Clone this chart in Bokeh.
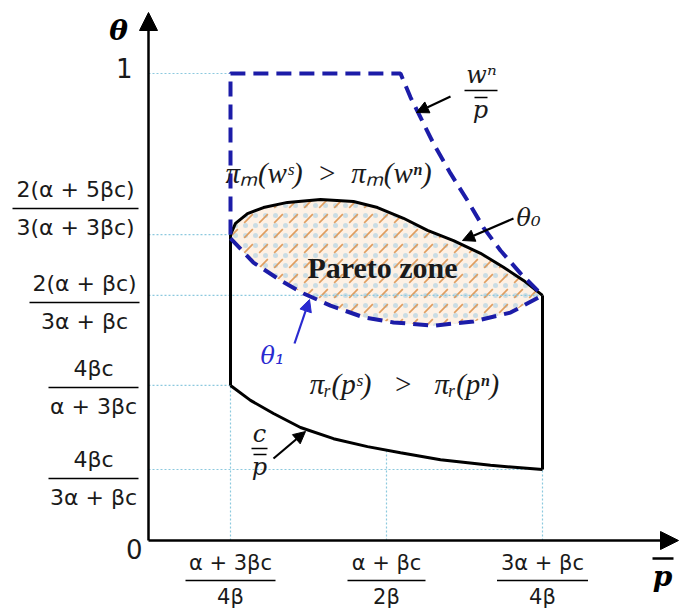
import numpy as np
from bokeh.plotting import figure
from bokeh.models import Range1d, Arrow, NormalHead
from bokeh.core.properties import value
from bokeh.embed import file_html
from bokeh.resources import INLINE

# ---------------- data (schematic units: p-bar horizontal, theta vertical) ----------------
x_ticks = [0.82, 2.38, 3.94]
x_tick_num = ["α + 3βc", "α + βc", "3α + βc"]
x_tick_den = ["4β", "2β", "4β"]

y_ticks = [1.0, 0.655, 0.525, 0.332, 0.152]
y_tick_num = ["2(α + 5βc)", "2(α + βc)", "4βc", "4βc"]
y_tick_den = ["3(α + 3βc)", "3α + βc", "α + 3βc", "3α + βc"]

# upper boundary theta_0 (solid black)
theta0_x = [0.82, 0.87, 0.99, 1.15, 1.39, 1.72, 2.05, 2.29, 2.55, 2.79, 3.05, 3.32, 3.55, 3.75, 3.94]
theta0_y = [0.655, 0.679, 0.700, 0.713, 0.724, 0.730, 0.726, 0.713, 0.690, 0.664, 0.642, 0.615, 0.585, 0.557, 0.525]

# theta_1 (blue dashed)
theta1_x = [0.82, 1.05, 1.32, 1.55, 1.82, 2.15, 2.45, 2.85, 3.25, 3.62, 3.94]
theta1_y = [0.647, 0.595, 0.557, 0.529, 0.503, 0.478, 0.467, 0.460, 0.469, 0.488, 0.525]

# c / p-bar (solid black lower boundary)
cp_x = [0.82, 1.02, 1.25, 1.52, 1.85, 2.19, 2.52, 2.92, 3.42, 3.94]
cp_y = [0.332, 0.300, 0.272, 0.242, 0.218, 0.201, 0.188, 0.173, 0.161, 0.152]

# w^n / p-bar (blue dashed upper path)
wn_x = [0.82, 0.82, 2.52, 2.62, 2.72, 2.85, 3.02, 3.19, 3.35, 3.52, 3.72, 3.94]
wn_y = [0.655, 1.0, 1.0, 0.949, 0.906, 0.850, 0.786, 0.728, 0.670, 0.621, 0.572, 0.525]

# ---------------- layout helpers (page pixel -> schematic units) ----------------
W, H = 680, 611
def X(px):
    return (px - 148) / 100.0
def Y(py):
    return (540 - py) / 467.0

p = figure(width=W, height=H, output_backend="svg", toolbar_location=None,
           x_range=Range1d(X(0), X(W)), y_range=Range1d(Y(H), Y(0)),
           min_border=0, outline_line_color=None)
p.axis.visible = False
p.grid.visible = False
p.background_fill_color = "white"

BLUE = "#1c1ca8"
GRID = "#8cc9de"

# Pareto zone fill
pz_x = theta0_x + theta1_x[::-1]
pz_y = theta0_y + theta1_y[::-1]
p.patch(pz_x, pz_y, fill_color="#fdeede", fill_alpha=0.8, line_color=None)
p.patch(pz_x, pz_y, fill_alpha=0, line_color=None, hatch_pattern=".",
        hatch_color="#a8cfe3", hatch_scale=10, hatch_weight=1.0, hatch_alpha=0.6)
p.patch(pz_x, pz_y, fill_alpha=0, line_color=None, hatch_pattern=",",
        hatch_color="#dd9450", hatch_scale=15, hatch_weight=1.7, hatch_alpha=0.9)

# dotted guide lines
gx0 = [0, 0, 0, 0, 0, x_ticks[0], x_ticks[1], x_ticks[2]]
gy0 = [y_ticks[0], y_ticks[1], y_ticks[2], y_ticks[3], y_ticks[4], 0, 0, 0]
gx1 = [x_ticks[0], x_ticks[0], x_ticks[2], x_ticks[0], x_ticks[2], x_ticks[0], x_ticks[1], x_ticks[2]]
gy1 = [y_ticks[0], y_ticks[1], y_ticks[2], y_ticks[3], y_ticks[4], y_ticks[3],
       float(np.interp(x_ticks[1], cp_x, cp_y)), y_ticks[4]]
p.segment(gx0, gy0, gx1, gy1, line_color=GRID, line_width=1.2, line_dash="2 2")

# black region boundary
p.line(theta0_x, theta0_y, line_color="black", line_width=3)
p.line(cp_x, cp_y, line_color="black", line_width=3)
p.line([theta0_x[0], cp_x[0]], [theta0_y[0], cp_y[0]], line_color="black", line_width=3)
p.line([theta0_x[-1], cp_x[-1]], [theta0_y[-1], cp_y[-1]], line_color="black", line_width=3)

# blue dashed curves
p.line(wn_x, wn_y, line_color=BLUE, line_width=4, line_dash="15 8")
p.line(theta1_x, theta1_y, line_color=BLUE, line_width=4, line_dash="15 8")

# axes with arrow heads
p.add_layout(Arrow(end=NormalHead(size=18, fill_color="black", line_color="black"),
                   x_start=0, y_start=0, x_end=0, y_end=Y(12), line_width=2.5))
p.add_layout(Arrow(end=NormalHead(size=18, fill_color="black", line_color="black"),
                   x_start=0, y_start=0, x_end=X(678), y_end=0, line_width=2.5))

TICKFONT = value("DejaVu Sans")
MATHFONT = value("DejaVu Serif")
LABFONT = value("Liberation Serif")
TXT = "#1a1a1a"

# y tick fractions
ylab_cx = [X(75), X(84), X(93), X(93)]
ylab_bar = [Y(208), Y(302), Y(387), Y(478)]
ylab_w = [1.26, 1.10, 0.90, 0.90]
d = 19 / 467.0
p.text(x=ylab_cx, y=[b + d for b in ylab_bar], text=y_tick_num, text_font=TICKFONT,
       text_font_size="22px", text_align="center", text_baseline="middle", text_color=TXT)
p.text(x=ylab_cx, y=[b - d for b in ylab_bar], text=y_tick_den, text_font=TICKFONT,
       text_font_size="22px", text_align="center", text_baseline="middle", text_color=TXT)
p.segment([c - w / 2 for c, w in zip(ylab_cx, ylab_w)], ylab_bar,
          [c + w / 2 for c, w in zip(ylab_cx, ylab_w)], ylab_bar, line_color="black", line_width=1.5)

# 0 and 1
p.text(x=[X(132), X(142)], y=[Y(67), Y(548)], text=["1", "0"], text_font=TICKFONT,
       text_font_size="26px", text_align="right", text_baseline="middle", text_color=TXT)

# x tick fractions
xbar = Y(580)
xw = [0.90, 0.78, 0.91]
p.text(x=x_ticks, y=[xbar + 18 / 467.0] * 3, text=x_tick_num, text_font=TICKFONT,
       text_font_size="21px", text_align="center", text_baseline="middle", text_color=TXT)
p.text(x=x_ticks, y=[xbar - 16 / 467.0] * 3, text=x_tick_den, text_font=TICKFONT,
       text_font_size="21px", text_align="center", text_baseline="middle", text_color=TXT)
p.segment([c - w / 2 for c, w in zip(x_ticks, xw)], [xbar] * 3,
          [c + w / 2 for c, w in zip(x_ticks, xw)], [xbar] * 3, line_color="black", line_width=1.5)

# axis titles
p.text(x=[X(118)], y=[Y(30)], text=["θ"], text_font=MATHFONT, text_font_style="bold italic",
       text_font_size="28px", text_align="center", text_baseline="middle", text_color="black")
p.text(x=[X(662)], y=[Y(576)], text=["p"], text_font=MATHFONT, text_font_style="bold italic",
       text_font_size="28px", text_align="center", text_baseline="middle", text_color="black")
p.segment([X(652)], [Y(558)], [X(673)], [Y(558)], line_color="black", line_width=2.5)

# region labels
p.text(x=[X(328)], y=[Y(172)], text=["πₘ(wˢ)\u2002>\u2002πₘ(wⁿ)"], text_font=LABFONT, text_font_style="italic",
       text_font_size="29px", text_align="center", text_baseline="middle", text_color=TXT)
p.text(x=[X(404)], y=[Y(383)], text=["πᵣ(pˢ)\u2002\u2005>\u2002\u2005πᵣ(pⁿ)"], text_font=LABFONT,
       text_font_style="italic", text_font_size="29px", text_align="center", text_baseline="middle",
       text_color=TXT)
p.text(x=[X(382)], y=[Y(267)], text=["Pareto zone"], text_font=LABFONT,
       text_font_style="bold", text_font_size="30px", text_align="center", text_baseline="middle",
       text_color=TXT)
p.text(x=[X(528)], y=[Y(217)], text=["θ₀"], text_font=MATHFONT, text_font_style="italic",
       text_font_size="24px", text_align="center", text_baseline="middle", text_color=TXT)
p.text(x=[X(272)], y=[Y(355)], text=["θ₁"], text_font=MATHFONT, text_font_style="italic",
       text_font_size="24px", text_align="center", text_baseline="middle", text_color="#2a2ad0")

# w^n / p-bar label
p.text(x=[X(481)], y=[Y(74)], text=["wⁿ"], text_font=MATHFONT, text_font_style="italic",
       text_font_size="24px", text_align="center", text_baseline="middle", text_color=TXT)
p.segment([X(464)], [Y(90)], [X(497)], [Y(90)], line_color="black", line_width=1.5)
p.segment([X(474)], [Y(97)], [X(487)], [Y(97)], line_color="black", line_width=1.5)
p.text(x=[X(480)], y=[Y(109)], text=["p"], text_font=MATHFONT, text_font_style="italic",
       text_font_size="24px", text_align="center", text_baseline="middle", text_color=TXT)

# c / p-bar label
p.text(x=[X(259)], y=[Y(433)], text=["c"], text_font=MATHFONT, text_font_style="italic",
       text_font_size="24px", text_align="center", text_baseline="middle", text_color=TXT)
p.segment([X(251)], [Y(448)], [X(267)], [Y(448)], line_color="black", line_width=1.5)
p.segment([X(253)], [Y(454)], [X(266)], [Y(454)], line_color="black", line_width=1.5)
p.text(x=[X(259)], y=[Y(466)], text=["p"], text_font=MATHFONT, text_font_style="italic",
       text_font_size="24px", text_align="center", text_baseline="middle", text_color=TXT)

# pointer arrows
def pointer(x0, y0, x1, y1, color):
    p.add_layout(Arrow(end=NormalHead(size=12, fill_color=color, line_color=color),
                       x_start=x0, y_start=y0, x_end=x1, y_end=y1,
                       line_color=color, line_width=2.2))

pointer(X(450), Y(96), X(416), Y(112), "black")
pointer(X(513), Y(218), X(462), Y(240), "black")
pointer(X(294), Y(343), X(309), Y(299), "#2a2ad0")
pointer(X(273), Y(458), X(305), Y(431), "black")

open("out.html", "w").write(file_html(p, INLINE))
